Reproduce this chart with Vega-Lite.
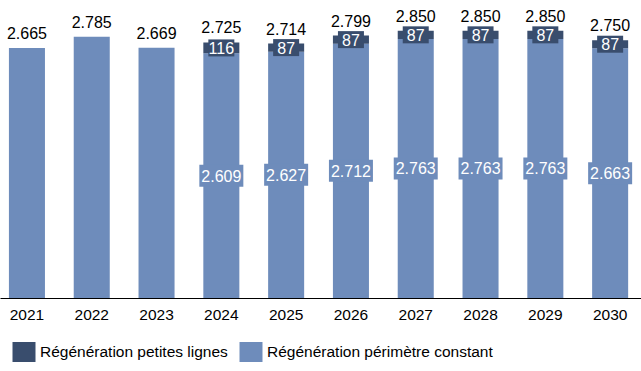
{
  "$schema": "https://vega.github.io/schema/vega-lite/v6.json",
  "width": 641,
  "height": 298,
  "autosize": {"type": "none"},
  "padding": {"left": 0, "top": 0, "right": 0, "bottom": 73},
  "config": {
    "view": {"stroke": null},
    "font": "Liberation Sans",
    "locale": {"number": {"decimal": ",", "thousands": ".", "grouping": [3], "currency": ["", ""]}}
  },
  "data": {
    "values": [
      {"annee": "2021", "serie": "Régénération périmètre constant", "valeur": 2665},
      {"annee": "2022", "serie": "Régénération périmètre constant", "valeur": 2785},
      {"annee": "2023", "serie": "Régénération périmètre constant", "valeur": 2669},
      {"annee": "2024", "serie": "Régénération périmètre constant", "valeur": 2609},
      {"annee": "2025", "serie": "Régénération périmètre constant", "valeur": 2627},
      {"annee": "2026", "serie": "Régénération périmètre constant", "valeur": 2712},
      {"annee": "2027", "serie": "Régénération périmètre constant", "valeur": 2763},
      {"annee": "2028", "serie": "Régénération périmètre constant", "valeur": 2763},
      {"annee": "2029", "serie": "Régénération périmètre constant", "valeur": 2763},
      {"annee": "2030", "serie": "Régénération périmètre constant", "valeur": 2663},
      {"annee": "2024", "serie": "Régénération petites lignes", "valeur": 116},
      {"annee": "2025", "serie": "Régénération petites lignes", "valeur": 87},
      {"annee": "2026", "serie": "Régénération petites lignes", "valeur": 87},
      {"annee": "2027", "serie": "Régénération petites lignes", "valeur": 87},
      {"annee": "2028", "serie": "Régénération petites lignes", "valeur": 87},
      {"annee": "2029", "serie": "Régénération petites lignes", "valeur": 87},
      {"annee": "2030", "serie": "Régénération petites lignes", "valeur": 87}
    ]
  },
  "encoding": {
    "x": {
      "field": "annee", "type": "ordinal",
      "scale": {"paddingInner": 0.444, "paddingOuter": 0.168, "align": 0.41},
      "axis": {"title": null, "ticks": false, "domainColor": "#000000", "domainWidth": 1.2, "labelFontSize": 15.5, "labelColor": "#000000", "labelPadding": 9, "labelAngle": 0}
    }
  },
  "layer": [
    {
      "mark": {"type": "bar"},
      "encoding": {
        "y": {"field": "valeur", "type": "quantitative", "stack": "zero", "scale": {"domain": [0, 3178], "nice": false}, "axis": null},
        "color": {
          "field": "serie", "type": "nominal",
          "scale": {"domain": ["Régénération petites lignes", "Régénération périmètre constant"], "range": ["#394d6d", "#6e8cbb"]},
          "legend": {
            "title": null, "orient": "none", "direction": "horizontal",
            "legendX": 14, "legendY": 342, "padding": 0, "offset": 0,
            "symbolType": "M-1.15,-1H1.15V1H-1.15Z", "symbolSize": 400, "symbolStrokeWidth": 0,
            "labelFontSize": 15.5, "labelColor": "#000000", "labelOffset": 6, "columnPadding": 11, "labelLimit": 400
          }
        },
        "order": {"field": "serie", "sort": "descending"}
      }
    },
    {
      "transform": [
        {"stack": "valeur", "groupby": ["annee"], "sort": [{"field": "serie", "order": "descending"}], "as": ["v0", "v1"]},
        {"filter": "datum.annee >= '2024'"},
        {"calculate": "(datum.v0 + datum.v1) / 2", "as": "milieu"}
      ],
      "layer": [
        {
          "mark": {"type": "point", "filled": true, "opacity": 1, "size": 400, "shape": "M-1.3,-0.85H1.3V0.85H-1.3Z"},
          "transform": [{"filter": "datum.serie == 'Régénération petites lignes'"}],
          "encoding": {
            "y": {"field": "milieu", "type": "quantitative"},
            "color": {"value": "#394d6d"}
          }
        },
        {
          "mark": {"type": "point", "filled": true, "opacity": 1, "size": 400, "shape": "M-2.2,-1.1H2.2V1.1H-2.2Z"},
          "transform": [{"filter": "datum.serie == 'Régénération périmètre constant'"}],
          "encoding": {
            "y": {"field": "milieu", "type": "quantitative"},
            "color": {"value": "#6e8cbb"}
          }
        },
        {
          "mark": {"type": "text", "fontSize": 16, "color": "#ffffff", "baseline": "middle", "dy": 1},
          "encoding": {
            "y": {"field": "milieu", "type": "quantitative"},
            "text": {"field": "valeur", "type": "quantitative", "format": ",d"}
          }
        }
      ]
    },
    {
      "mark": {"type": "text", "fontSize": 16, "color": "#000000", "baseline": "bottom", "dy": -6},
      "encoding": {
        "y": {"aggregate": "sum", "field": "valeur", "type": "quantitative"},
        "text": {"aggregate": "sum", "field": "valeur", "type": "quantitative", "format": ",d"}
      }
    }
  ]
}
